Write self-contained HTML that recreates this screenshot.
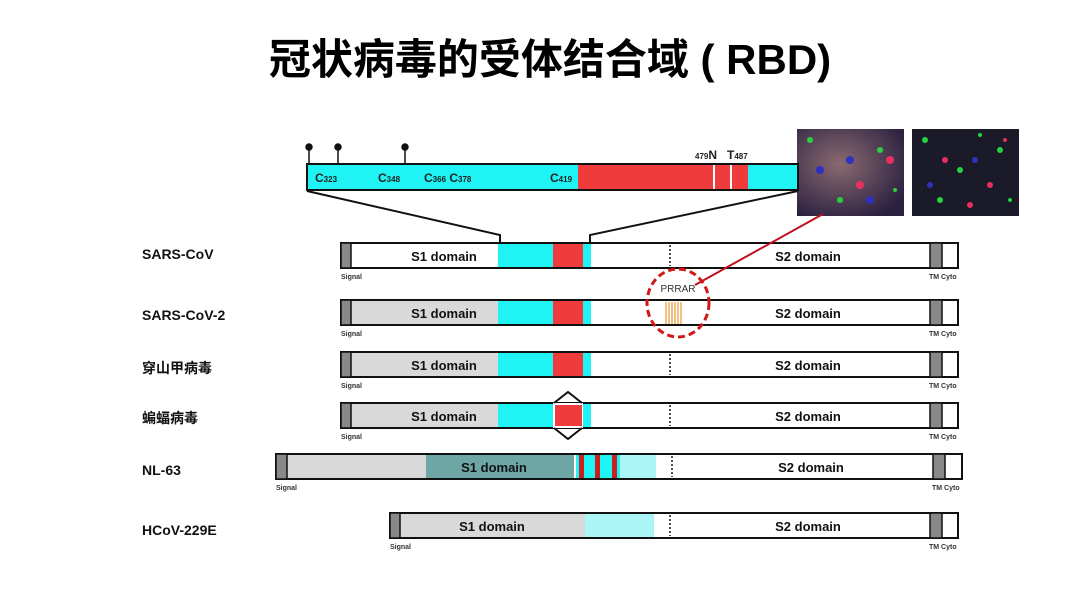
<!DOCTYPE html>
<html><head><meta charset="utf-8"><style>
body{margin:0;background:#fff;}
svg{display:block;font-family:"Liberation Sans","Noto Sans CJK SC",sans-serif;}
.b{font-weight:bold;}
</style></head><body>
<svg width="1080" height="594" viewBox="0 0 1080 594">
<text x="550" y="74" text-anchor="middle" font-size="42" class="b" font-family="'Liberation Sans','Noto Sans CJK SC',sans-serif">冠状病毒的受体结合域 ( RBD)</text>

<defs>
<radialGradient id="g1" cx="40%" cy="40%" r="70%"><stop offset="0" stop-color="#8a6a70"/><stop offset="1" stop-color="#2a2040"/></radialGradient>
</defs>
<rect x="797" y="129" width="107" height="87" fill="url(#g1)"/>
<rect x="912" y="129" width="107" height="87" fill="#1a1a28"/>
<g fill="#2ad040"><circle cx="810" cy="140" r="3"/><circle cx="880" cy="150" r="3"/><circle cx="840" cy="200" r="3"/><circle cx="895" cy="190" r="2"/><circle cx="925" cy="140" r="3"/><circle cx="960" cy="170" r="3"/><circle cx="1000" cy="150" r="3"/><circle cx="940" cy="200" r="3"/><circle cx="1010" cy="200" r="2"/><circle cx="980" cy="135" r="2"/></g>
<g fill="#e83060"><circle cx="860" cy="185" r="4"/><circle cx="890" cy="160" r="4"/><circle cx="945" cy="160" r="3"/><circle cx="990" cy="185" r="3"/><circle cx="970" cy="205" r="3"/><circle cx="1005" cy="140" r="2"/></g>
<g fill="#3030c0"><circle cx="820" cy="170" r="4"/><circle cx="850" cy="160" r="4"/><circle cx="870" cy="200" r="4"/><circle cx="930" cy="185" r="3"/><circle cx="975" cy="160" r="3"/></g>

<g stroke="#111" stroke-width="1.5" fill="#111">
<line x1="309" y1="148" x2="309" y2="164"/><circle cx="309" cy="147" r="3"/>
<line x1="338" y1="148" x2="338" y2="164"/><circle cx="338" cy="147" r="3"/>
<line x1="405" y1="148" x2="405" y2="164"/><circle cx="405" cy="147" r="3"/>
</g>
<rect x="307" y="164" width="491" height="26" fill="#1ff3f3" stroke="#111" stroke-width="2"/>
<rect x="578" y="165" width="170" height="24" fill="#ef3b3b"/>
<rect x="713" y="165" width="2" height="24" fill="#fff"/>
<rect x="730" y="165" width="2" height="24" fill="#fff"/>
<g class="b" font-size="12" fill="#222">
<text x="315" y="182">C<tspan font-size="8">323</tspan></text>
<text x="378" y="182">C<tspan font-size="8">348</tspan></text>
<text x="424" y="182">C<tspan font-size="8">366</tspan> C<tspan font-size="8">378</tspan></text>
<text x="550" y="182">C<tspan font-size="8">419</tspan></text>
<text x="695" y="159"><tspan font-size="8">479</tspan>N</text>
<text x="727" y="159">T<tspan font-size="8">487</tspan></text>
</g>
<polyline points="307,191 500,235 500,242" fill="none" stroke="#111" stroke-width="2"/>
<polyline points="798,191 590,235 590,242" fill="none" stroke="#111" stroke-width="2"/>

<g class="b" font-size="14" fill="#111">
<text x="142" y="259">SARS-CoV</text>
<text x="142" y="320">SARS-CoV-2</text>
<text x="142" y="373">穿山甲病毒</text>
<text x="142" y="423">蝙蝠病毒</text>
<text x="142" y="475">NL-63</text>
<text x="142" y="535">HCoV-229E</text>
</g>

<rect x="341" y="243" width="617" height="25" fill="#fff" stroke="#111" stroke-width="2"/>
<rect x="498" y="244" width="93" height="23" fill="#1ff3f3"/>
<rect x="553" y="244" width="30" height="23" fill="#ef3b3b"/>
<rect x="341" y="300" width="617" height="25" fill="#fff" stroke="#111" stroke-width="2"/>
<rect x="351" y="301" width="147" height="23" fill="#d9d9d9"/>
<rect x="498" y="301" width="93" height="23" fill="#1ff3f3"/>
<rect x="553" y="301" width="30" height="23" fill="#ef3b3b"/>
<g stroke="#e8a040" stroke-width="1.3"><line x1="666" y1="302" x2="666" y2="324"/><line x1="669" y1="302" x2="669" y2="324"/><line x1="672" y1="302" x2="672" y2="324"/><line x1="675" y1="302" x2="675" y2="324"/><line x1="678" y1="302" x2="678" y2="324"/><line x1="681" y1="302" x2="681" y2="324"/></g>
<rect x="341" y="352" width="617" height="25" fill="#fff" stroke="#111" stroke-width="2"/>
<rect x="351" y="353" width="147" height="23" fill="#d9d9d9"/>
<rect x="498" y="353" width="93" height="23" fill="#1ff3f3"/>
<rect x="553" y="353" width="30" height="23" fill="#ef3b3b"/>
<rect x="341" y="403" width="617" height="25" fill="#fff" stroke="#111" stroke-width="2"/>
<rect x="351" y="404" width="147" height="23" fill="#d9d9d9"/>
<rect x="498" y="404" width="93" height="23" fill="#1ff3f3"/>
<rect x="553" y="403" width="30" height="25" fill="#fff"/>
<rect x="555" y="405" width="27" height="21" fill="#ef3b3b"/>
<polyline points="554,403 568,392 582,403" fill="none" stroke="#111" stroke-width="2"/>
<polyline points="554,428 568,439 582,428" fill="none" stroke="#111" stroke-width="2"/>
<rect x="276" y="454" width="686" height="25" fill="#fff" stroke="#111" stroke-width="2"/>
<rect x="287" y="455" width="139" height="23" fill="#d9d9d9"/>
<rect x="426" y="455" width="148" height="23" fill="#6ea6a6"/>
<rect x="576" y="455" width="44" height="23" fill="#1ff3f3"/>
<rect x="620" y="455" width="36" height="23" fill="#aaf6f6"/>
<rect x="579" y="455" width="5" height="23" fill="#c82020"/>
<rect x="595" y="455" width="5" height="23" fill="#c82020"/>
<rect x="612" y="455" width="5" height="23" fill="#c82020"/>
<rect x="390" y="513" width="568" height="25" fill="#fff" stroke="#111" stroke-width="2"/>
<rect x="400" y="514" width="185" height="23" fill="#d9d9d9"/>
<rect x="585" y="514" width="69" height="23" fill="#aaf6f6"/>

<g fill="#888" stroke="#111" stroke-width="1.5">
<rect x="341" y="243" width="10" height="25"/><rect x="341" y="300" width="10" height="25"/>
<rect x="341" y="352" width="10" height="25"/><rect x="341" y="403" width="10" height="25"/>
<rect x="276" y="454" width="11" height="25"/><rect x="390" y="513" width="10" height="25"/>
<rect x="930" y="243" width="12" height="25"/><rect x="930" y="300" width="12" height="25"/>
<rect x="930" y="352" width="12" height="25"/><rect x="930" y="403" width="12" height="25"/>
<rect x="933" y="454" width="12" height="25"/><rect x="930" y="513" width="12" height="25"/>
</g>
<g stroke="#111" stroke-width="1.5" stroke-dasharray="2,2">
<line x1="670" y1="245" x2="670" y2="266"/><line x1="670" y1="354" x2="670" y2="375"/>
<line x1="670" y1="405" x2="670" y2="426"/><line x1="672" y1="456" x2="672" y2="477"/>
<line x1="670" y1="515" x2="670" y2="536"/>
</g>
<g class="b" font-size="13" fill="#111" text-anchor="middle">
<text x="444" y="261">S1 domain</text><text x="808" y="261">S2 domain</text>
<text x="444" y="318">S1 domain</text><text x="808" y="318">S2 domain</text>
<text x="444" y="370">S1 domain</text><text x="808" y="370">S2 domain</text>
<text x="444" y="421">S1 domain</text><text x="808" y="421">S2 domain</text>
<text x="494" y="472">S1 domain</text><text x="811" y="472">S2 domain</text>
<text x="492" y="531">S1 domain</text><text x="808" y="531">S2 domain</text>
</g>
<g class="b" font-size="7" fill="#333">
<text x="341" y="279">Signal</text><text x="929" y="279">TM Cyto</text>
<text x="341" y="336">Signal</text><text x="929" y="336">TM Cyto</text>
<text x="341" y="388">Signal</text><text x="929" y="388">TM Cyto</text>
<text x="341" y="439">Signal</text><text x="929" y="439">TM Cyto</text>
<text x="276" y="490">Signal</text><text x="932" y="490">TM Cyto</text>
<text x="390" y="549">Signal</text><text x="929" y="549">TM Cyto</text>
</g>

<line x1="695" y1="285" x2="823" y2="214" stroke="#c0101c" stroke-width="2"/>
<ellipse cx="678" cy="303" rx="31" ry="34" fill="none" stroke="#d01818" stroke-width="3" stroke-dasharray="7,4"/>
<text x="678" y="292" text-anchor="middle" font-size="10" fill="#333">PRRAR</text>
</svg>
</body></html>
